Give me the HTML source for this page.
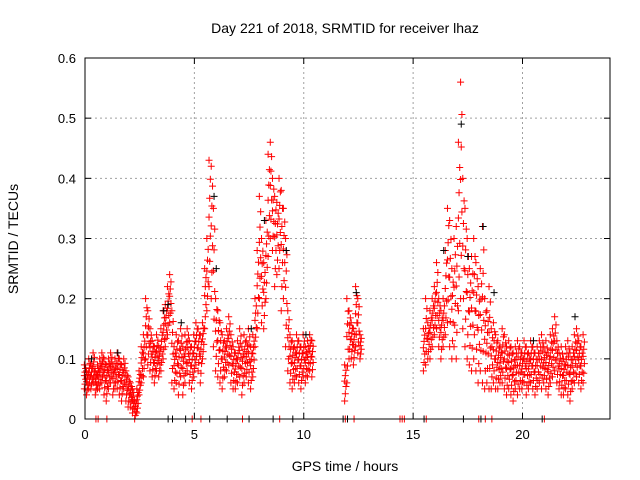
<!DOCTYPE html>
<html><head><meta charset="utf-8">
<style>
body{margin:0;background:#fff;}
svg{display:block;font-family:"Liberation Sans",sans-serif;}
</style></head>
<body>
<svg id="chart" width="640" height="480">
<rect width="640" height="480" fill="#fff"/>
<text x="345" y="33" font-size="14" text-anchor="middle">Day 221 of 2018, SRMTID for receiver lhaz</text>
<text transform="translate(18,239) rotate(-90)" font-size="14" text-anchor="middle">SRMTID / TECUs</text>
<text x="345" y="471" font-size="14" text-anchor="middle">GPS time / hours</text>
<g id="grid"></g>
<g id="axes"></g>
<g id="marks"></g>
<rect x="85" y="58" width="525" height="361" fill="none" stroke="#000"/>
</svg>
<script>
const xTicks=[0,5,10,15,20];
const yTicks=[0,0.1,0.2,0.3,0.4,0.5,0.6];
const yTickLabels=["0","0.1","0.2","0.3","0.4","0.5","0.6"];
const redTimes=[0,0.1,0.2,0.3,0.4,0.5,0.6,0.7,0.8,0.9,1,1.1,1.2,1.3,1.4,1.5,1.6,1.7,1.8,1.9,2,2.1,2.2,2.3,2.4,2.5,2.6,2.7,2.8,2.9,3,3.1,3.2,3.3,3.4,3.5,3.6,3.7,3.8,3.9,4,4.1,4.2,4.3,4.4,4.5,4.6,4.7,4.8,4.9,5,5.1,5.2,5.3,5.4,5.5,5.6,5.7,5.8,5.9,6,6.1,6.2,6.3,6.4,6.5,6.6,6.7,6.8,6.9,7,7.1,7.2,7.3,7.4,7.5,7.6,7.7,7.8,7.9,8,8.1,8.2,8.3,8.4,8.5,8.6,8.7,8.8,8.9,9,9.1,9.2,9.3,9.4,9.5,9.6,9.7,9.8,9.9,10,10.1,10.2,10.3,10.4,
11.9,12,12.1,12.2,12.3,12.4,12.5,12.6,
15.5,15.6,15.7,15.8,15.9,16,16.1,16.2,16.3,16.4,16.5,16.6,16.7,16.8,16.9,17,17.1,17.2,17.3,17.4,17.5,17.6,17.7,17.8,17.9,18,18.1,18.2,18.3,18.4,18.5,18.6,18.7,18.8,18.9,19,19.1,19.2,19.3,19.4,19.5,19.6,19.7,19.8,19.9,20,20.1,20.2,20.3,20.4,20.5,20.6,20.7,20.8,20.9,21,21.1,21.2,21.3,21.4,21.5,21.6,21.7,21.8,21.9,22,22.1,22.2,22.3,22.4,22.5,22.6,22.7,22.8];
const redHigh=[0.09,0.08,0.1,0.09,0.11,0.08,0.09,0.1,0.11,0.1,0.09,0.1,0.11,0.09,0.1,0.11,0.1,0.09,0.1,0.08,0.07,0.06,0.05,0.03,0.05,0.08,0.12,0.14,0.2,0.18,0.15,0.13,0.12,0.14,0.12,0.15,0.18,0.19,0.22,0.24,0.18,0.12,0.14,0.13,0.15,0.12,0.14,0.15,0.13,0.12,0.14,0.16,0.15,0.14,0.16,0.25,0.3,0.43,0.42,0.35,0.2,0.18,0.16,0.14,0.13,0.15,0.17,0.14,0.12,0.11,0.13,0.15,0.12,0.14,0.13,0.15,0.12,0.14,0.2,0.28,0.37,0.3,0.26,0.33,0.44,0.46,0.4,0.37,0.36,0.4,0.38,0.35,0.3,0.18,0.14,0.13,0.12,0.14,0.13,0.12,0.14,0.12,0.13,0.14,0.13,
0.09,0.2,0.18,0.16,0.15,0.22,0.2,0.14,
0.15,0.2,0.16,0.18,0.2,0.22,0.26,0.2,0.18,0.2,0.28,0.35,0.33,0.25,0.3,0.32,0.46,0.56,0.4,0.35,0.3,0.25,0.27,0.3,0.26,0.22,0.25,0.32,0.2,0.18,0.22,0.15,0.16,0.14,0.13,0.12,0.15,0.14,0.12,0.13,0.12,0.11,0.12,0.13,0.12,0.11,0.13,0.12,0.11,0.13,0.12,0.11,0.12,0.13,0.14,0.12,0.13,0.11,0.14,0.15,0.17,0.13,0.11,0.12,0.1,0.12,0.13,0.11,0.12,0.14,0.15,0.13,0.12,0.14];
const redLow=[0.05,0.04,0.05,0.05,0.06,0.04,0.05,0.05,0.06,0.04,0.03,0.05,0.06,0.04,0.05,0.05,0.04,0.03,0.05,0.03,0.02,0.02,0.01,0,0.01,0.04,0.06,0.07,0.1,0.09,0.08,0.07,0.06,0.08,0.07,0.08,0.1,0.12,0.14,0.16,0.06,0.05,0.06,0.04,0.07,0.04,0.06,0.08,0.06,0.05,0.07,0.09,0.08,0.06,0.1,0.15,0.18,0.22,0.2,0.12,0.08,0.07,0.06,0.05,0.07,0.08,0.09,0.06,0.05,0.05,0.06,0.07,0.04,0.06,0.07,0.06,0.05,0.07,0.12,0.15,0.2,0.16,0.15,0.2,0.27,0.3,0.28,0.22,0.24,0.25,0.18,0.2,0.12,0.08,0.06,0.05,0.06,0.07,0.06,0.05,0.07,0.06,0.07,0.08,0.07,
0.03,0.06,0.1,0.1,0.09,0.12,0.11,0.1,
0.08,0.09,0.1,0.1,0.12,0.14,0.15,0.12,0.1,0.12,0.14,0.16,0.12,0.1,0.12,0.1,0.18,0.2,0.15,0.12,0.1,0.09,0.08,0.1,0.08,0.06,0.08,0.06,0.05,0.06,0.05,0.05,0.06,0.05,0.05,0.06,0.06,0.05,0.04,0.05,0.04,0.03,0.05,0.04,0.05,0.05,0.06,0.04,0.05,0.06,0.05,0.04,0.05,0.06,0.05,0.06,0.05,0.04,0.06,0.07,0.08,0.06,0.05,0.04,0.04,0.05,0.04,0.03,0.05,0.06,0.07,0.06,0.05,0.06];
const redZeroTimes=[0.5,0.6,1.0,4.9,5.3,7.2,8.9,11.9,12.3,14.4,14.5,14.6,15.6,18.0,18.3,18.6,21.0];
const blackTimes=[0.3,1.5,3.6,3.8,4.4,5.9,6.0,7.6,8.2,9.2,10.1,12.4,16.4,17.2,17.5,18.2,18.7,20.5,22.4];
const blackValues=[0.1,0.11,0.18,0.19,0.16,0.37,0.25,0.15,0.33,0.28,0.14,0.21,0.28,0.49,0.27,0.32,0.21,0.13,0.17];
const blackZeroTimes=[3.8,4.0,4.6,5.7,6.5,7.5,8.6,9.5,11.8,12.0,15.5,17.3,18.1,20.9];

const X0=85,X1=610,Y0=419,Y1=58;
const xs=v=>X0+v/24*(X1-X0);
const ys=v=>Y0-v/0.6*(Y0-Y1);
const NS="http://www.w3.org/2000/svg";
function mk(tag,attrs,parent){const e=document.createElementNS(NS,tag);for(const k in attrs)e.setAttribute(k,attrs[k]);parent.appendChild(e);return e;}
const grid=document.getElementById('grid'),axes=document.getElementById('axes'),marks=document.getElementById('marks');
xTicks.forEach((t,i)=>{
  const x=xs(t);
  if(t>0){const l=mk('line',{x1:x,y1:Y0,x2:x,y2:Y1,stroke:'#a0a0a0','stroke-dasharray':'2,3'},grid);
  
  }
  mk('line',{x1:x,y1:Y0,x2:x,y2:Y0-6,stroke:'#000'},axes);
  mk('line',{x1:x,y1:Y1,x2:x,y2:Y1+6,stroke:'#000'},axes);
  const tx=mk('text',{x:x,y:Y0+20,'font-size':13,'text-anchor':'middle'},axes);
  tx.textContent=String(t);
  
  
});
yTicks.forEach((t,i)=>{
  const y=ys(t);
  if(t>0&&t<0.6){const l=mk('line',{x1:X0,y1:y,x2:X1,y2:y,stroke:'#a0a0a0','stroke-dasharray':'2,3'},grid);
  
  }
  mk('line',{x1:X0,y1:y,x2:X0+6,y2:y,stroke:'#000'},axes);
  mk('line',{x1:X1,y1:y,x2:X1-6,y2:y,stroke:'#000'},axes);
  const tx=mk('text',{x:X0-9,y:y+5,'font-size':13,'text-anchor':'end'},axes);
  tx.textContent=yTickLabels[i];
  
  
});
function plus(t,v,color,name){
  const x=xs(t),y=ys(v);
  const p=mk('path',{d:`M${x-3.5},${y}h7M${x},${y-3.5}v7`,stroke:color,'stroke-width':1,fill:'none'},marks);
  
  
}
redTimes.forEach((t,i)=>{
  const hi=redHigh[i],lo=redLow[i],d=hi-lo;
  [0,0.2,0.4,0.55,0.7,0.85,1].forEach((f,j)=>{
    const dt=(j%3-1)*0.03;
    plus(t+dt,lo+d*f,'#ff0000','red-point');
  });
});
blackTimes.forEach((t,i)=>plus(t,blackValues[i],'#000000','black-point'));
blackZeroTimes.forEach(t=>plus(t,0,'#000000','black-zero-point'));
redZeroTimes.forEach(t=>plus(t,0,'#ff0000','red-zero-point'));
</script>
</body></html>
